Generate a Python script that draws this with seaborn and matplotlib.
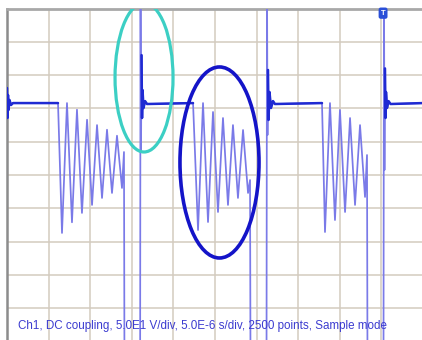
import numpy as np
import pandas as pd
import seaborn as sns
import matplotlib.pyplot as plt
from matplotlib.patches import Ellipse

# =============================================================================
# Scope trace (time in us, voltage in V)
# 5 us/div horizontally, 50 V/div vertically, +-300 V = clipped off screen
# =============================================================================

lead_t = [0.00, 0.06, 0.12, 0.18, 0.30, 0.48, 0.72, 6.13]
lead_v = [130.6, 85.6, 120.1, 97.6, 112.6, 105.1, 108.0, 108.0]

burst1_t = [6.61, 7.21, 7.81, 8.41, 9.01, 9.62, 10.22, 10.82, 11.42, 12.02,
            12.62, 13.22, 13.82, 14.06, 14.12, 16.00, 16.05]
burst1_v = [-87.0, 108.0, -71.0, 98.0, -57.0, 83.0, -45.0, 75.0, -34.5, 68.0,
            -27.0, 59.0, -19.5, 34.5, -300.0, -300.0, 300.0]

ring2_t = [16.11, 16.17, 16.23, 16.29, 16.41, 16.59, 16.83, 22.36]
ring2_v = [37.5, 180.0, 85.6, 127.6, 100.6, 111.0, 106.6, 108.0]

burst2_t = [22.96, 23.56, 24.16, 24.76, 25.36, 25.96, 26.56, 27.16, 27.76,
            28.37, 28.97, 29.21, 29.27, 31.19, 31.25]
burst2_v = [-82.6, 108.0, -70.6, 94.6, -55.6, 85.6, -45.0, 75.0, -34.5,
            67.6, -27.0, -7.5, -300.0, -300.0, 300.0]

ring3_t = [31.31, 31.37, 31.43, 31.55, 31.73, 31.97, 32.20, 37.86]
ring3_v = [60.0, 157.7, 82.6, 124.6, 100.6, 111.0, 106.6, 108.0]

burst3_t = [38.22, 38.82, 39.42, 40.02, 40.63, 41.23, 41.83, 42.43, 43.03,
            43.27, 43.33, 45.25, 45.31]
burst3_v = [-85.6, 108.0, -67.6, 97.6, -55.6, 85.6, -45.0, 75.0, -33.0,
            30.0, -300.0, -300.0, 300.0]

ring4_t = [45.37, 45.43, 45.49, 45.55, 45.67, 45.85, 46.10, 50.00]
ring4_v = [7.5, 160.0, 85.6, 124.6, 100.6, 111.0, 106.6, 108.0]

# settled (slow, bright) parts of the trace
settle_windows = [(0.0, 6.13), (16.17, 22.36), (31.37, 37.86), (45.43, 50.0)]

trace = pd.DataFrame({
    "t": np.concatenate([lead_t, burst1_t, ring2_t, burst2_t, ring3_t, burst3_t, ring4_t]),
    "v": np.concatenate([lead_v, burst1_v, ring2_v, burst2_v, ring3_v, burst3_v, ring4_v]),
})

info_text = "Ch1, DC coupling, 5.0E1 V/div, 5.0E-6 s/div, 2500 points, Sample mode"

# =============================================================================
# Figure
# =============================================================================

sns.set_style("white")
plt.rcParams["font.family"] = ["Liberation Sans", "DejaVu Sans"]

fig = plt.figure(figsize=(4.22, 3.40), dpi=100)
fig.patch.set_facecolor("white")

# 10 x 10 division screen, cropped on the right and bottom
ax = fig.add_axes([7 / 422, -1.5 / 340, 416 / 422, 333 / 340])
ax.set_xlim(0, 50)
ax.set_ylim(-250, 250)
ax.set_xticks(np.arange(0, 51, 5))
ax.set_yticks(np.arange(-250, 251, 50))
ax.tick_params(length=0, labelbottom=False, labelleft=False)
ax.grid(True, color="#d3cbbf", linewidth=1.1)
ax.set_axisbelow(True)

ax.spines["left"].set_color("#8c8c8c")
ax.spines["left"].set_linewidth(1.8)
ax.spines["top"].set_color("#a8a8a8")
ax.spines["top"].set_linewidth(2.0)
ax.spines["right"].set_visible(False)
ax.spines["bottom"].set_visible(False)

# fast parts: thin, faint
sns.lineplot(data=trace, x="t", y="v", sort=False, estimator=None,
             color="#7a7ae8", linewidth=1.25, ax=ax, zorder=3)

# settled parts: bright, thick
for t0, t1 in settle_windows:
    sub = trace[(trace["t"] >= t0) & (trace["t"] <= t1)]
    sns.lineplot(data=sub, x="t", y="v", sort=False, estimator=None,
                 color="#1f2ad2", linewidth=1.8, ax=ax, zorder=4)

ax.set_xlabel("")
ax.set_ylabel("")

# highlight ellipses
ax.add_patch(Ellipse((16.47, 146.4), 6.97, 223.7, fill=False,
                     edgecolor="#3ccfc4", linewidth=2.3, zorder=5))
ax.add_patch(Ellipse((25.54, 18.8), 9.50, 286.8, fill=False,
                     edgecolor="#1414c8", linewidth=2.6, zorder=5))

# trigger marker
ax.text(45.2, 243, "T", color="white", fontsize=5.5, fontweight="bold",
        ha="center", va="center", zorder=6, clip_on=False,
        bbox=dict(boxstyle="round,pad=0.28", fc="#2a4fd8", ec="none"))

fig.text(18 / 422, 1 - 326 / 340, info_text, color="#3c3cd0",
         fontsize=8.4, ha="left", va="center", zorder=1)

plt.savefig("out.png", dpi=100)
